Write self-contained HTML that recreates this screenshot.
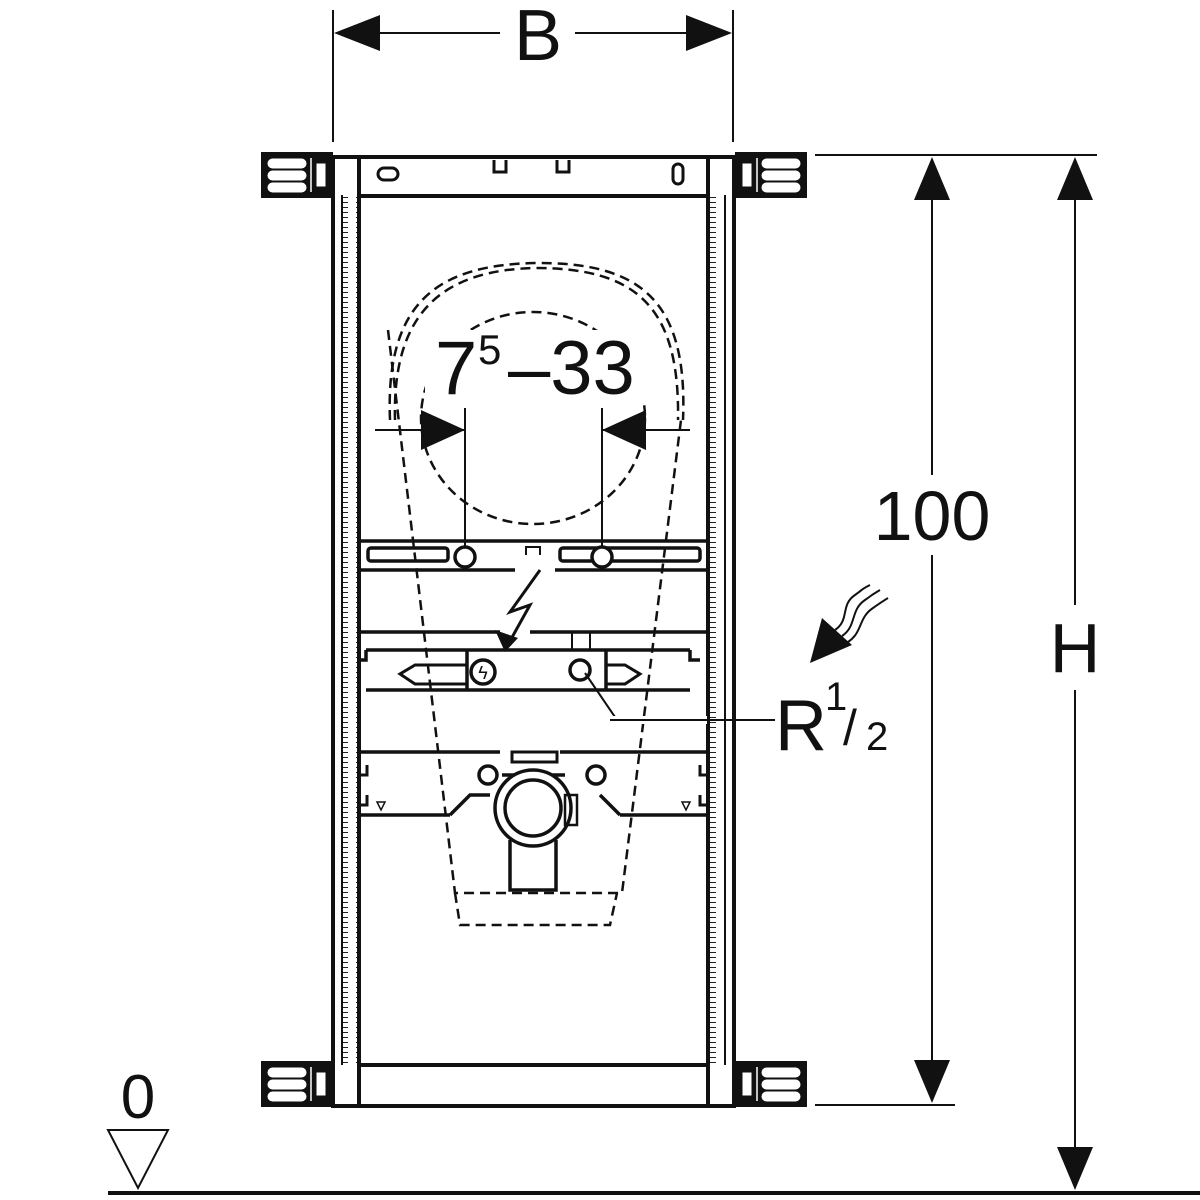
<!DOCTYPE html>
<html><head><meta charset="utf-8"><style>html,body{margin:0;padding:0;background:#fff}svg{display:block}</style></head><body>
<svg width="1200" height="1200" viewBox="0 0 1200 1200" xmlns="http://www.w3.org/2000/svg" font-family="Liberation Sans, sans-serif">
<defs>
<pattern id="lad" x="0" y="0" width="16" height="5" patternUnits="userSpaceOnUse"><line x1="4" y1="2.5" x2="12" y2="2.5" stroke="#222" stroke-width="1"/></pattern>
<g id="foot">
<rect x="0" y="0" width="68" height="42" fill="#111" stroke="#111" stroke-width="4"/>
<rect x="5" y="5" width="38" height="9" rx="4.5" fill="#fff" stroke="#fff" stroke-width="1"/>
<rect x="5" y="17" width="38" height="9" rx="4.5" fill="#fff" stroke="#fff" stroke-width="1"/>
<rect x="5" y="29" width="38" height="9" rx="4.5" fill="#fff" stroke="#fff" stroke-width="1"/>
<line x1="48" y1="4" x2="48" y2="38" stroke="#fff" stroke-width="1.5"/>
<rect x="53" y="9" width="10" height="24" fill="#fff" stroke="#111" stroke-width="1"/>
</g>
</defs>
<g stroke="#111" fill="none">
<line x1="333" y1="10" x2="333" y2="142" stroke-width="2"/>
<line x1="733" y1="10" x2="733" y2="142" stroke-width="2"/>
<line x1="380" y1="33" x2="500" y2="33" stroke-width="2"/>
<line x1="575" y1="33" x2="690" y2="33" stroke-width="2"/>
</g>
<polygon points="334,33 380,15 380,51" fill="#111"/>
<polygon points="732,33 686,15 686,51" fill="#111"/>
<text x="538" y="60" font-size="72" text-anchor="middle" fill="#111">B</text>

<g stroke="#111" stroke-width="2" fill="none">
<line x1="815" y1="155" x2="1097" y2="155"/>
<line x1="815" y1="1105" x2="955" y2="1105"/>
<line x1="932" y1="195" x2="932" y2="1065"/>
<line x1="1075" y1="195" x2="1075" y2="1152"/>
</g>
<rect x="860" y="475" width="140" height="80" fill="#fff"/>
<rect x="1040" y="605" width="70" height="85" fill="#fff"/>
<polygon points="932,157 914,200 950,200" fill="#111"/>
<polygon points="932,1103 914,1060 950,1060" fill="#111"/>
<polygon points="1075,157 1057,200 1093,200" fill="#111"/>
<polygon points="1075,1190 1057,1147 1093,1147" fill="#111"/>
<text x="932" y="540" font-size="70" text-anchor="middle" fill="#111">100</text>
<text x="1075" y="672" font-size="70" text-anchor="middle" fill="#111">H</text>

<line x1="108" y1="1193" x2="1200" y2="1193" stroke="#111" stroke-width="4"/>
<polygon points="108,1130 168,1130 138,1188" fill="none" stroke="#111" stroke-width="2"/>
<text x="138" y="1118" font-size="62" text-anchor="middle" fill="#111">0</text>

<rect x="342" y="195" width="16" height="870" fill="url(#lad)"/>
<rect x="709" y="195" width="16" height="870" fill="url(#lad)"/>
<g stroke="#111" fill="none">
<line x1="333" y1="155" x2="333" y2="1107" stroke-width="4"/>
<line x1="342" y1="195" x2="342" y2="1065" stroke-width="2"/>
<line x1="359" y1="155" x2="359" y2="1107" stroke-width="4"/>
<line x1="708" y1="155" x2="708" y2="1107" stroke-width="4"/>
<line x1="725" y1="195" x2="725" y2="1065" stroke-width="2"/>
<line x1="734" y1="155" x2="734" y2="1107" stroke-width="4"/>
<line x1="331" y1="157" x2="736" y2="157" stroke-width="4"/>
<line x1="359" y1="196" x2="708" y2="196" stroke-width="4"/>
<rect x="378" y="168" width="20" height="12" rx="6" stroke-width="3"/>
<path d="M494,160 v12 h12 v-12 M557,160 v12 h12 v-12" stroke-width="3"/>
<rect x="673" y="164" width="10" height="20" rx="5" stroke-width="3"/>
<line x1="359" y1="1065" x2="708" y2="1065" stroke-width="4"/>
<line x1="331" y1="1106" x2="736" y2="1106" stroke-width="4"/>
</g>
<use href="#foot" x="263" y="154"/>
<use href="#foot" x="263" y="1063"/>
<g transform="translate(805,154) scale(-1,1)"><use href="#foot"/></g>
<g transform="translate(805,1063) scale(-1,1)"><use href="#foot"/></g>

<g stroke="#111" stroke-width="2.5" fill="none" stroke-dasharray="10,6">
<path d="M390,420 C385,300 440,265 535,263 C640,262 688,300 683,420"/>
<path d="M395,420 C392,310 445,270 535,268 C635,268 680,305 678,420"/>
<ellipse cx="533" cy="418" rx="112" ry="106"/>
<path d="M388,330 L455,893 L622,893 L681,420"/>
<path d="M455,893 L460,925 L610,925 L617,893"/>
</g>

<rect x="425" y="330" width="225" height="70" fill="#fff"/>
<text x="435" y="394" font-size="76" fill="#111">7</text>
<text x="478" y="364" font-size="42" fill="#111">5</text>
<text x="508" y="394" font-size="76" fill="#111">–33</text>
<g stroke="#111" stroke-width="2">
<line x1="375" y1="430" x2="465" y2="430"/>
<line x1="602" y1="430" x2="690" y2="430"/>
<line x1="465" y1="408" x2="465" y2="548"/>
<line x1="602" y1="408" x2="602" y2="548"/>
</g>
<polygon points="465,430 421,410 421,450" fill="#111"/>
<polygon points="602,430 646,410 646,450" fill="#111"/>

<g stroke="#111" fill="none" stroke-width="3.5">
<line x1="360" y1="541" x2="707" y2="541"/>
<line x1="360" y1="570" x2="515" y2="570"/>
<line x1="555" y1="570" x2="707" y2="570"/>
<rect x="368" y="548" width="80" height="13" rx="3"/>
<rect x="560" y="548" width="140" height="13" rx="3"/>
<circle cx="465" cy="557" r="10" fill="#fff"/>
<circle cx="602" cy="557" r="10" fill="#fff"/>
<path d="M526,555 v-8 h14 v8" stroke-width="2"/>
</g>
<path d="M540,570 L510,612 L530,605 L505,650" fill="none" stroke="#111" stroke-width="3"/>
<polygon points="505,652 495,630 518,638" fill="#111"/>

<g stroke="#111" fill="none" stroke-width="3.5">
<line x1="360" y1="632" x2="500" y2="632"/>
<line x1="530" y1="632" x2="707" y2="632"/>
<line x1="366" y1="650" x2="690" y2="650"/>
<line x1="366" y1="690" x2="690" y2="690"/>
<path d="M366,650 v10 h-6 M690,650 v10 h10"/>
<path d="M415,665 L400,674 L415,684 H467 V665 Z" stroke-width="3"/>
<line x1="467" y1="650" x2="467" y2="690"/>
<circle cx="483" cy="672" r="12"/>
<path d="M625,665 L640,674 L625,684 H606 V665 Z" stroke-width="3"/>
<line x1="606" y1="650" x2="606" y2="690"/>
<circle cx="580" cy="670" r="10"/>
<rect x="572" y="632" width="18" height="18" stroke-width="2"/>
</g>
<text x="483" y="679" font-size="18" text-anchor="middle" fill="#111">ϟ</text>
<polyline points="585,673 617,720 775,720" fill="none" stroke="#111" stroke-width="2"/>
<rect x="612" y="716" width="95" height="8" fill="#fff"/>
<line x1="610" y1="720" x2="775" y2="720" stroke="#111" stroke-width="2"/>
<g stroke="#111" stroke-width="2" fill="none">
<path d="M835,630 C850,620 840,605 855,595 C865,588 860,590 870,585"/>
<path d="M842,636 C857,626 850,610 865,600 C875,593 870,596 880,590"/>
<path d="M848,642 C863,632 858,618 873,608 C883,601 880,603 888,598"/>
</g>
<polygon points="810,663 822,618 852,645" fill="#111"/>
<text x="775" y="750" font-size="72" fill="#111">R</text>
<text x="825" y="710" font-size="40" fill="#111">1</text>
<text x="843" y="745" font-size="50" fill="#111">/</text>
<text x="866" y="750" font-size="40" fill="#111">2</text>

<g stroke="#111" fill="none" stroke-width="3.5">
<line x1="360" y1="752" x2="500" y2="752"/>
<line x1="560" y1="752" x2="707" y2="752"/>
<line x1="360" y1="815" x2="450" y2="815"/>
<line x1="620" y1="815" x2="707" y2="815"/>
<path d="M450,815 L470,795 H490 M600,795 L620,815"/>
<path d="M367,765 v10 h-7 M367,795 v10 h-7 M700,765 v10 h7 M700,795 v10 h7" stroke-width="3"/>
<circle cx="488" cy="775" r="9"/>
<circle cx="596" cy="775" r="9"/>
<rect x="512" y="752" width="45" height="10" stroke-width="3"/>
<path d="M502,775 H565"/>
<circle cx="533" cy="808" r="38" fill="#fff"/>
<circle cx="533" cy="808" r="28"/>
<path d="M510,840 V890 H556 V840"/>
<rect x="565" y="795" width="12" height="30" stroke-width="2.5"/>
</g>
<polygon points="377,802 385,802 381,810" fill="none" stroke="#111" stroke-width="1.5"/>
<polygon points="682,802 690,802 686,810" fill="none" stroke="#111" stroke-width="1.5"/>
</svg>
</body></html>
